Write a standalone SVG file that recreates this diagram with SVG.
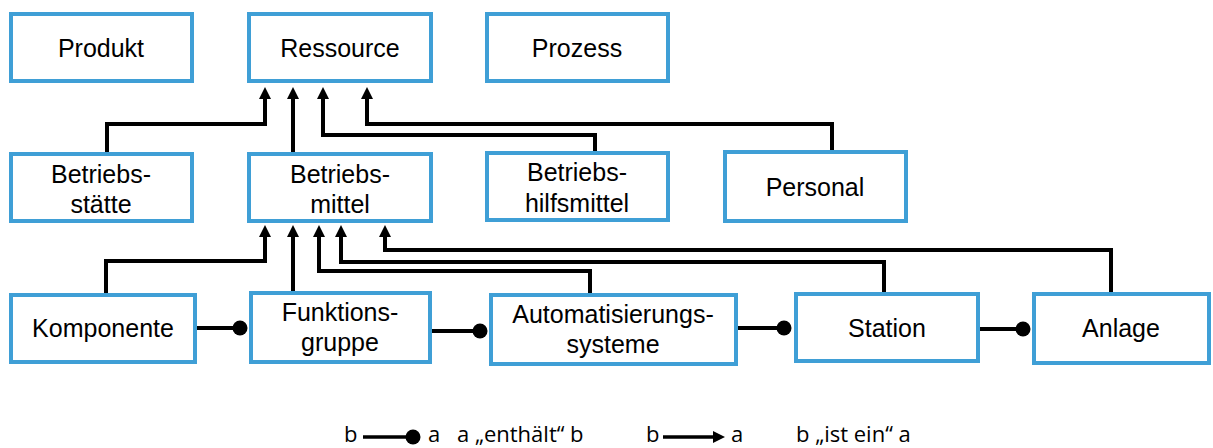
<svg xmlns="http://www.w3.org/2000/svg" width="1213" height="448" viewBox="0 0 1213 448">
<style>
.box{fill:#fff;stroke:#3F9FD6;stroke-width:4}
.t{font-family:"Liberation Sans",Arial,sans-serif;font-size:25px;fill:#000;text-anchor:middle}
.lg{font-family:"Open Sans","Noto Sans",sans-serif;font-size:22px;fill:#000}
.c{fill:none;stroke:#000;stroke-width:4}
.cl{fill:none;stroke:#000;stroke-width:3.5}
</style>
<defs>
<marker id="arr" markerUnits="userSpaceOnUse" viewBox="0 0 12 12" refX="0" refY="6" markerWidth="12" markerHeight="12" orient="auto">
<path d="M0,0 L12,6 L0,12 z" fill="#000"/>
</marker>
<marker id="dot" markerUnits="userSpaceOnUse" viewBox="-8 -8 16 16" refX="0" refY="0" markerWidth="16" markerHeight="16" orient="auto">
<circle cx="0" cy="0" r="7.5" fill="#000"/>
</marker>
</defs>
<g id="connectors">
<path class="c" d="M107,152 V124 H265 V99" marker-end="url(#arr)"/>
<path class="c" d="M293,152 V99" marker-end="url(#arr)"/>
<path class="c" d="M595,151 V135 H323 V99" marker-end="url(#arr)"/>
<path class="c" d="M832,150 V124 H367 V99" marker-end="url(#arr)"/>
<path class="c" d="M106,293 V261 H265 V237" marker-end="url(#arr)"/>
<path class="c" d="M293,291 V237" marker-end="url(#arr)"/>
<path class="c" d="M590,293 V271 H319 V237" marker-end="url(#arr)"/>
<path class="c" d="M884,292 V262 H341 V237" marker-end="url(#arr)"/>
<path class="c" d="M1111,292 V250 H385 V237" marker-end="url(#arr)"/>
<path class="c" d="M197,328 H240" marker-end="url(#dot)"/>
<path class="c" d="M432,331 H480" marker-end="url(#dot)"/>
<path class="c" d="M738,328 H784" marker-end="url(#dot)"/>
<path class="c" d="M979,329 H1023" marker-end="url(#dot)"/>
</g>
<g id="produkt"><rect class="box" x="11" y="14" width="181" height="67"/><text class="t" x="101" y="57">Produkt</text></g>
<g id="ressource"><rect class="box" x="249" y="14" width="182" height="67"/><text class="t" x="340" y="57">Ressource</text></g>
<g id="prozess"><rect class="box" x="487" y="14" width="181" height="67"/><text class="t" x="577" y="57">Prozess</text></g>
<g id="betriebsstaette"><rect class="box" x="11" y="154" width="181" height="67"/><text class="t" x="101" y="183">Betriebs-</text><text class="t" x="101" y="213">stätte</text></g>
<g id="betriebsmittel"><rect class="box" x="249" y="154" width="182" height="67"/><text class="t" x="340" y="183">Betriebs-</text><text class="t" x="340" y="213">mittel</text></g>
<g id="betriebshilfsmittel"><rect class="box" x="487" y="153" width="181" height="67"/><text class="t" x="577" y="181">Betriebs-</text><text class="t" x="577" y="212">hilfsmittel</text></g>
<g id="personal"><rect class="box" x="725" y="152" width="181" height="69"/><text class="t" x="815" y="196">Personal</text></g>
<g id="komponente"><rect class="box" x="11" y="295" width="184" height="67"/><text class="t" x="103" y="337">Komponente</text></g>
<g id="funktionsgruppe"><rect class="box" x="251" y="293" width="179" height="69"/><text class="t" x="340" y="321">Funktions-</text><text class="t" x="340" y="351">gruppe</text></g>
<g id="automatisierungssysteme"><rect class="box" x="491" y="295" width="245" height="69"/><text class="t" x="613" y="323">Automatisierungs-</text><text class="t" x="613" y="353">systeme</text></g>
<g id="station"><rect class="box" x="796" y="294" width="182" height="67"/><text class="t" x="887" y="337">Station</text></g>
<g id="anlage"><rect class="box" x="1034" y="294" width="175" height="69"/><text class="t" x="1121" y="337">Anlage</text></g>
<g id="legend">
<text class="lg" x="344" y="442">b</text>
<path class="cl" d="M363,437 H413" marker-end="url(#dot)"/>
<text class="lg" x="428" y="442">a</text>
<text class="lg" x="457" y="442">a „enthält“ b</text>
<text class="lg" x="646" y="442">b</text>
<path class="cl" d="M663,437 H713" marker-end="url(#arr)"/>
<text class="lg" x="731" y="442">a</text>
<text class="lg" x="796" y="442">b „ist ein“ a</text>
</g>
</svg>
